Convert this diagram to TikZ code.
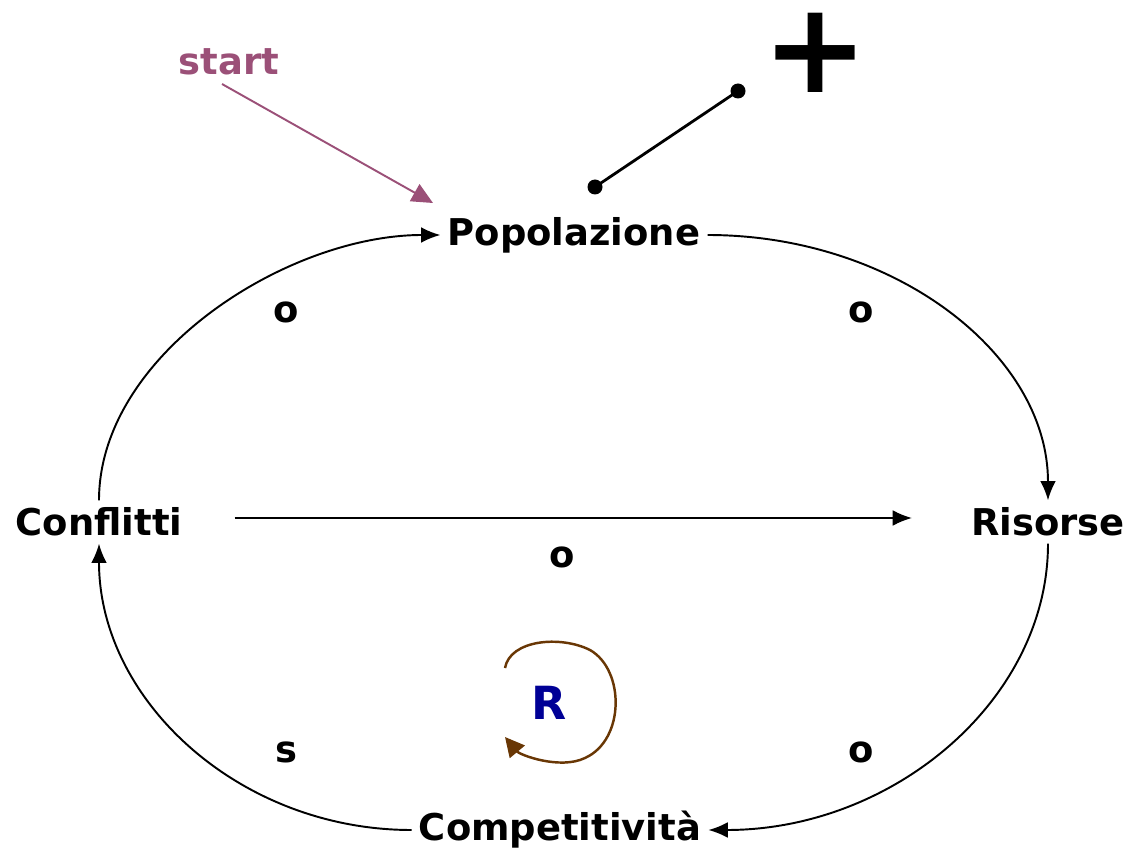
\documentclass[tikz,border=0pt]{standalone}
\usepackage{fontspec}
\setmainfont{DejaVu Sans}
\usetikzlibrary{arrows.meta}

\definecolor{startcol}{RGB}{155,80,120}
\definecolor{loopcol}{RGB}{105,55,5}
\definecolor{rcol}{RGB}{0,0,150}

\tikzset{
  var/.style={font=\fontsize{21}{25}\selectfont\bfseries, inner sep=4pt},
  sign/.style={font=\fontsize{21}{25}\selectfont\bfseries, inner sep=0pt},
  link/.style={line width=1.1pt, -{Latex[length=11pt,width=9pt]}},
}

\begin{document}
\begin{tikzpicture}[x=0.02cm, y=-0.02cm]
  \useasboundingbox (0,0) rectangle (1130,851);

  % Variables
  \node[var] (pop)  at (574,235) {Popolazione};
  \node[var] (ris)  at (1048,522) {Risorse};
  \node[var] (comp) at (560,830) {Competitività};
  \node[var] (conf) at (99,522)  {Conflitti};

  % Start marker
  \node[var, text=startcol] (start) at (229,62) {start};
  \coordinate (startend) at (433,203);
  \draw[line width=1.1pt, startcol, -{Triangle[length=12pt,width=11pt]}] (222,84) -- (startend);

  % Loop polarity
  \coordinate (d1) at (595,187);
  \coordinate (d2) at (738,91);
  \draw[line width=1.6pt] (d1) -- (d2);
  \fill (d1) circle (7.5) (d2) circle (7.5);
  \node[inner sep=0pt, font=\fontsize{72}{74}\selectfont\bfseries] (plus) at (815,53) {+};

  % Connections
  \draw[link] (pop.east) .. controls +(187,0) and +(0,-146) .. (ris.north);
  \draw[link] (ris.south) .. controls +(0,156) and +(185,0) .. (comp.east);
  \draw[link] (comp.west) .. controls +(-172,0) and +(0,157) .. (conf.south);
  \draw[link] (conf.north) .. controls +(0,-146) and +(-153,0) .. (pop.west);
  \draw[link] (conf.east) ++(45,-4) coordinate (c1) (c1) -- (912,518) coordinate (c2);

  % Signs
  \node[sign] (s1) at (286,312) {o};
  \node[sign] (s2) at (861,312) {o};
  \node[sign] (s3) at (562,557) {o};
  \node[sign] (s4) at (861,752) {o};
  \node[sign] (s5) at (286,752) {s};

  % Reinforcing loop
  \node[font=\fontsize{26}{29}\selectfont\bfseries, text=rcol] (R) at (549,703) {R};
  \draw[loopcol, line width=1.4pt, -{Triangle[length=11pt,width=11pt]}]
    (505,668) .. controls (510,640) and (560,635) .. (590,650)
    .. controls (625,670) and (625,740) .. (585,758)
    .. controls (560,770) and (520,755) .. (505,737);
\end{tikzpicture}
\end{document}
